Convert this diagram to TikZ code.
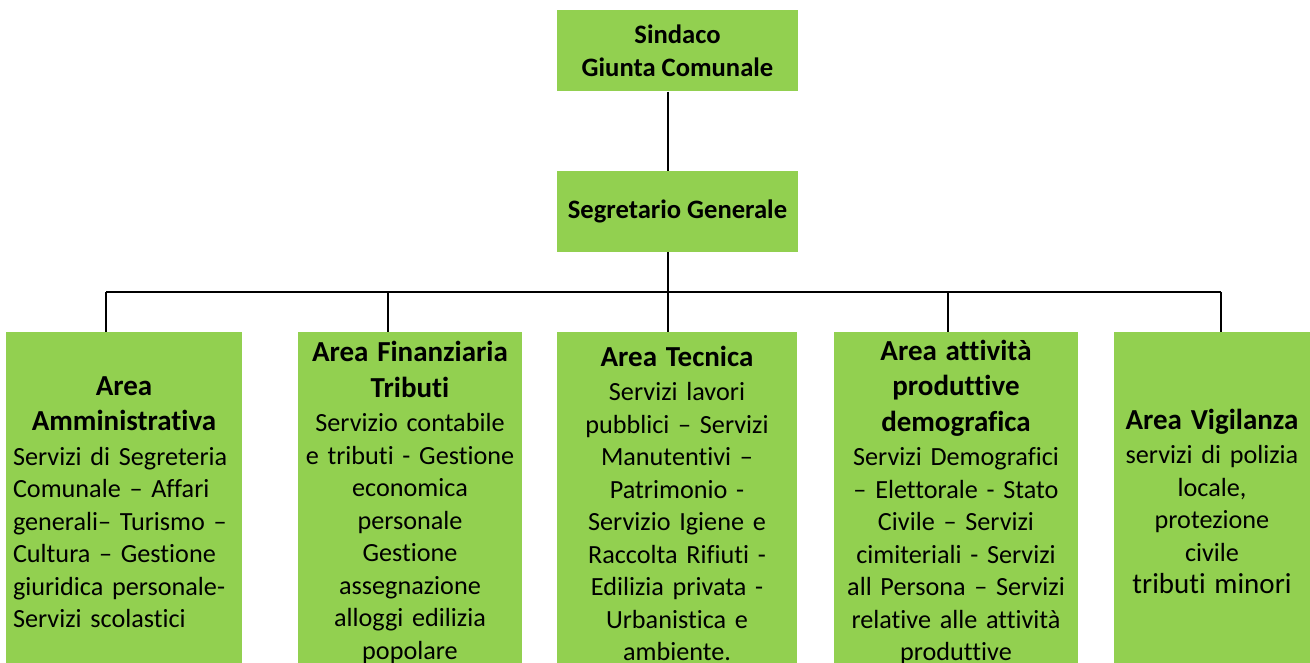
\documentclass[tikz,border=0pt]{standalone}
\usepackage{fontspec}
\setmainfont[Ligatures={NoCommon}]{Carlito}
\definecolor{areagreen}{HTML}{92D050}
\newcommand\bdsize{\fontsize{26.2}{32.5}\selectfont}
\newcommand\hdsize{\fontsize{29}{35.5}\selectfont\bfseries}
\tikzset{
  box/.style={fill=areagreen, inner sep=0pt, font=\bdsize},
  topbox/.style={box, minimum width=241pt, minimum height=81pt, align=center, font=\fontsize{26.6}{32.5}\selectfont\bfseries},
  area/.style={box, anchor=north, minimum height=340pt},
  link/.style={line width=2pt},
}
\begin{document}
\begin{tikzpicture}[x=1pt, y=-1pt]
    \useasboundingbox (0,0) rectangle (1310,663);
    \clip (0,0) rectangle (1310,663);
    \node[topbox] (sindaco) at (677.5,51) {Sindaco\\Giunta Comunale};
    \node[topbox] (segretario) at (677.5,211.5) {Segretario Generale};
    \node[area, minimum width=236pt, text width=222pt] (a1) at (124,332) {\centering{\hdsize Area\\Amministrativa\par}\vspace{2pt}\raggedright Servizi di Segreteria\\Comunale – Affari\\generali– Turismo –\\Cultura – Gestione\\giuridica personale-\\Servizi scolastici\par};
    \node[area, minimum width=224pt, text width=224pt] (a2) at (410,332) {\centering{\hdsize Area Finanziaria\\Tributi\par}\vspace{2pt}Servizio contabile\\e tributi - Gestione\\economica\\personale\\Gestione\\assegnazione\\alloggi edilizia\\popolare\par};
    \node[area, minimum width=240pt, text width=240pt, minimum height=342pt] (a3) at (677,332) {\centering{\hdsize Area Tecnica\par}\vspace{2pt}Servizi lavori\\pubblici – Servizi\\Manutentivi –\\Patrimonio -\\Servizio Igiene e\\Raccolta Rifiuti -\\Edilizia privata -\\Urbanistica e\\ambiente.\par};
    \node[area, minimum width=244pt, text width=244pt] (a4) at (956,332) {\centering{\hdsize Area attività\\produttive\\demografica\par}\vspace{2pt}Servizi Demografici\\– Elettorale - Stato\\Civile – Servizi\\cimiteriali - Servizi\\all Persona – Servizi\\relative alle attività\\produttive\par};
    \node[area, minimum width=196pt, text width=196pt, minimum height=338pt] (a5) at (1212,332) {\centering{\hdsize Area Vigilanza\par}\vspace{2pt}servizi di polizia\\locale,\\protezione\\civile\\{\fontsize{29}{32.5}\selectfont tributi minori}\par};
    % organigram lines
    \coordinate (j1) at (106,292); \coordinate (j2) at (388,292); \coordinate (j3) at (668,292);
    \coordinate (j4) at (948,292); \coordinate (j5) at (1221,292);
    \draw[link] (sindaco.south -| j3) -- (segretario.north -| j3);
    \draw[link] (segretario.south -| j3) -- (j3);
    \draw[link] (j1) -- (j5);
    \foreach \i in {1,...,5} \draw[link] (j\i) -- (j\i |- a\i.north);
\end{tikzpicture}
\end{document}
